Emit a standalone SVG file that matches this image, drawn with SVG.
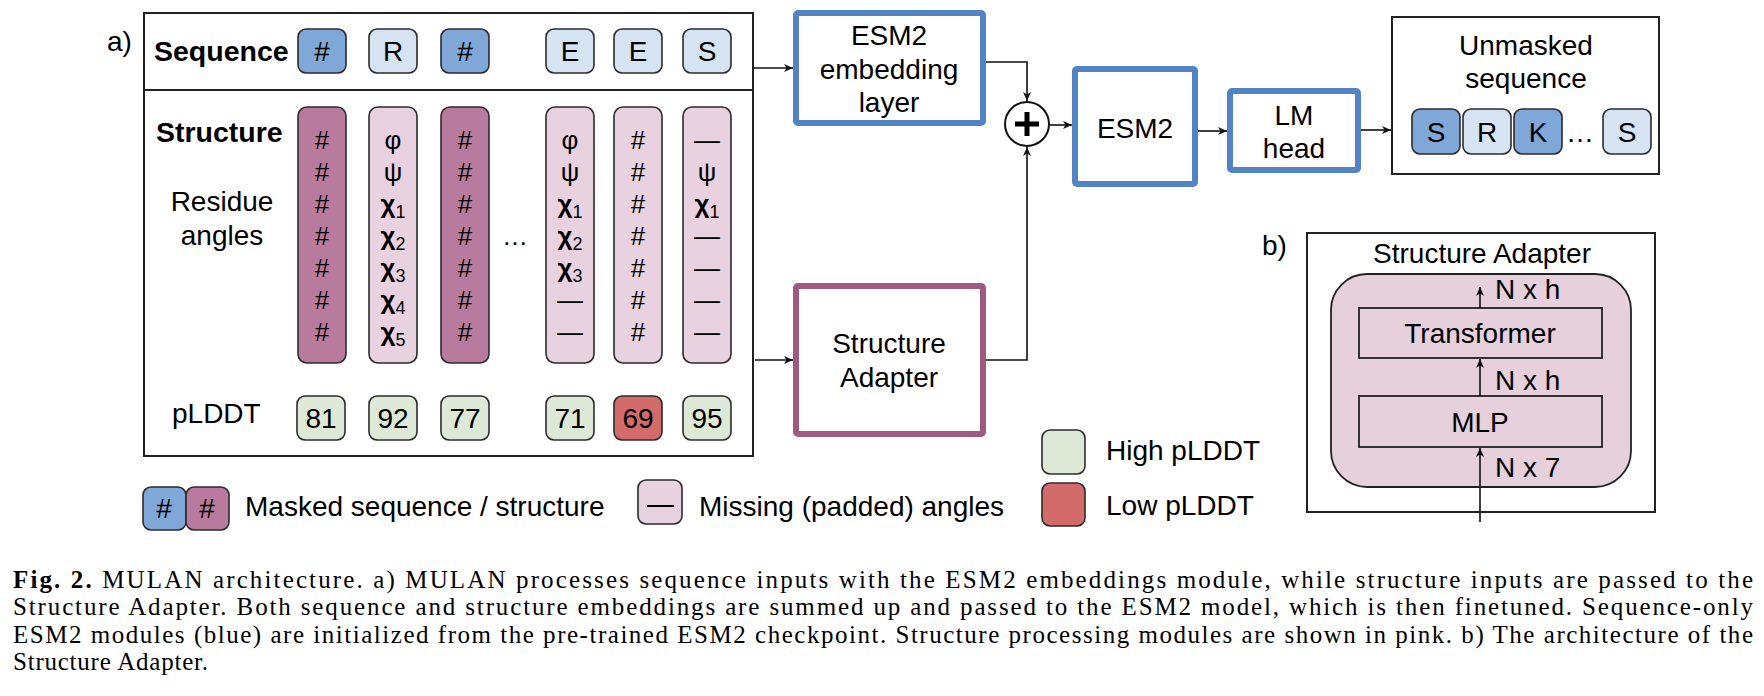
<svg xmlns="http://www.w3.org/2000/svg" width="1764" height="696" viewBox="0 0 1764 696">
<defs>
<style>
.t{font-family:"Liberation Sans",Arial,sans-serif;font-size:28px;fill:#000}
.tb{font-family:"Liberation Sans",Arial,sans-serif;font-size:28.5px;font-weight:bold;fill:#000}
.m{text-anchor:middle}
.g{font-family:"Liberation Sans",Arial,sans-serif;font-size:26px;fill:#000;text-anchor:middle}
.sub{font-size:18px;font-weight:normal}
.chi{font-weight:bold}
.tok{stroke:#2b2b2b;stroke-width:1.6}
.mb{fill:#7fa7d8}
.lb{fill:#d5e3f2}
.mp{fill:#b97b9d}
.lp{fill:#e8d2df}
.gr{fill:#dde9d6}
.rd{fill:#d36b6a}
.frame{fill:#fff;stroke:#222;stroke-width:2}
.bluebox{fill:#fff;stroke:#5283c4;stroke-width:6}
.pinkbox{fill:#fff;stroke:#a15a7f;stroke-width:6}
.conn{fill:none;stroke:#111;stroke-width:1.6}
.cap{font-family:"Liberation Serif","Times New Roman",serif;font-size:25px;fill:#000}
</style>
<marker id="ah" markerUnits="userSpaceOnUse" markerWidth="12" markerHeight="10" refX="9" refY="4" orient="auto">
<path d="M0,0 L9,4 L0,8 L2.5,4 z" fill="#111"/>
</marker>
</defs>

<g id="panel-a-frame">
<rect class="frame" x="144" y="13" width="609" height="443"/>
<line x1="144" y1="90" x2="753" y2="90" stroke="#222" stroke-width="2"/>
<text class="t" x="107" y="51" font-size="26">a)</text>
<text class="tb" x="154" y="61">Sequence</text>
<text class="tb" x="156" y="142">Structure</text>
<text class="t m" x="222" y="211">Residue</text>
<text class="t m" x="222" y="245">angles</text>
<text class="t" x="172" y="423">pLDDT</text>
<text class="g" x="515" y="245">…</text>
</g>

<g id="sequence-tokens">
<rect class="tok mb" x="298" y="29" width="48" height="44" rx="8"/><text class="t m" x="322" y="61">#</text>
<rect class="tok lb" x="369" y="29" width="48" height="44" rx="8"/><text class="t m" x="393" y="61">R</text>
<rect class="tok mb" x="441" y="29" width="48" height="44" rx="8"/><text class="t m" x="465" y="61">#</text>
<rect class="tok lb" x="546" y="29" width="48" height="44" rx="8"/><text class="t m" x="570" y="61">E</text>
<rect class="tok lb" x="614" y="29" width="48" height="44" rx="8"/><text class="t m" x="638" y="61">E</text>
<rect class="tok lb" x="683" y="29" width="48" height="44" rx="8"/><text class="t m" x="707" y="61">S</text>
</g>

<g id="structure-col-1">
<rect class="tok mp" x="298" y="107" width="48" height="256" rx="9"/>
<text class="g" x="322" y="149">#</text><text class="g" x="322" y="181">#</text><text class="g" x="322" y="213">#</text><text class="g" x="322" y="245">#</text><text class="g" x="322" y="277">#</text><text class="g" x="322" y="309">#</text><text class="g" x="322" y="341">#</text>
</g>
<g id="structure-col-2">
<rect class="tok lp" x="369" y="107" width="48" height="256" rx="9"/>
<text class="g" x="393" y="149">φ</text>
<text class="g" x="393" y="181">ψ</text>
<text class="g" x="393" y="213"><tspan class="chi">χ</tspan><tspan class="sub" dy="5">1</tspan></text>
<text class="g" x="393" y="245"><tspan class="chi">χ</tspan><tspan class="sub" dy="5">2</tspan></text>
<text class="g" x="393" y="277"><tspan class="chi">χ</tspan><tspan class="sub" dy="5">3</tspan></text>
<text class="g" x="393" y="309"><tspan class="chi">χ</tspan><tspan class="sub" dy="5">4</tspan></text>
<text class="g" x="393" y="341"><tspan class="chi">χ</tspan><tspan class="sub" dy="5">5</tspan></text>
</g>
<g id="structure-col-3">
<rect class="tok mp" x="441" y="107" width="48" height="256" rx="9"/>
<text class="g" x="465" y="149">#</text><text class="g" x="465" y="181">#</text><text class="g" x="465" y="213">#</text><text class="g" x="465" y="245">#</text><text class="g" x="465" y="277">#</text><text class="g" x="465" y="309">#</text><text class="g" x="465" y="341">#</text>
</g>
<g id="structure-col-4">
<rect class="tok lp" x="546" y="107" width="48" height="256" rx="9"/>
<text class="g" x="570" y="149">φ</text>
<text class="g" x="570" y="181">ψ</text>
<text class="g" x="570" y="213"><tspan class="chi">χ</tspan><tspan class="sub" dy="5">1</tspan></text>
<text class="g" x="570" y="245"><tspan class="chi">χ</tspan><tspan class="sub" dy="5">2</tspan></text>
<text class="g" x="570" y="277"><tspan class="chi">χ</tspan><tspan class="sub" dy="5">3</tspan></text>
<text class="g" x="570" y="309">—</text>
<text class="g" x="570" y="341">—</text>
</g>
<g id="structure-col-5">
<rect class="tok lp" x="614" y="107" width="48" height="256" rx="9"/>
<text class="g" x="638" y="149">#</text><text class="g" x="638" y="181">#</text><text class="g" x="638" y="213">#</text><text class="g" x="638" y="245">#</text><text class="g" x="638" y="277">#</text><text class="g" x="638" y="309">#</text><text class="g" x="638" y="341">#</text>
</g>
<g id="structure-col-6">
<rect class="tok lp" x="683" y="107" width="48" height="256" rx="9"/>
<text class="g" x="707" y="149">—</text>
<text class="g" x="707" y="181">ψ</text>
<text class="g" x="707" y="213"><tspan class="chi">χ</tspan><tspan class="sub" dy="5">1</tspan></text>
<text class="g" x="707" y="245">—</text>
<text class="g" x="707" y="277">—</text>
<text class="g" x="707" y="309">—</text>
<text class="g" x="707" y="341">—</text>
</g>

<g id="plddt-tokens">
<rect class="tok gr" x="297" y="396" width="48" height="44" rx="8"/><text class="t m" x="321" y="428">81</text>
<rect class="tok gr" x="369" y="396" width="48" height="44" rx="8"/><text class="t m" x="393" y="428">92</text>
<rect class="tok gr" x="441" y="396" width="48" height="44" rx="8"/><text class="t m" x="465" y="428">77</text>
<rect class="tok gr" x="546" y="396" width="48" height="44" rx="8"/><text class="t m" x="570" y="428">71</text>
<rect class="tok rd" x="614" y="396" width="48" height="44" rx="8"/><text class="t m" x="638" y="428">69</text>
<rect class="tok gr" x="683" y="396" width="48" height="44" rx="8"/><text class="t m" x="707" y="428">95</text>
</g>

<g id="esm2-embedding">
<rect class="bluebox" x="796" y="13" width="187" height="110" rx="2"/>
<text class="t m" x="889" y="45">ESM2</text>
<text class="t m" x="889" y="79">embedding</text>
<text class="t m" x="889" y="112">layer</text>
</g>

<g id="structure-adapter">
<rect class="pinkbox" x="796" y="286" width="187" height="148" rx="2"/>
<text class="t m" x="889" y="353">Structure</text>
<text class="t m" x="889" y="387">Adapter</text>
</g>

<g id="sum">
<circle cx="1027" cy="124" r="22" fill="#fff" stroke="#111" stroke-width="2"/>
<line x1="1015" y1="124" x2="1039" y2="124" stroke="#000" stroke-width="5"/>
<line x1="1027" y1="112" x2="1027" y2="136" stroke="#000" stroke-width="5"/>
</g>

<g id="esm2">
<rect class="bluebox" x="1075" y="69" width="120" height="115" rx="2"/>
<text class="t m" x="1135" y="138">ESM2</text>
</g>

<g id="lm-head">
<rect class="bluebox" x="1230" y="91" width="128" height="79" rx="2"/>
<text class="t m" x="1294" y="125">LM</text>
<text class="t m" x="1294" y="158">head</text>
</g>

<g id="unmasked-sequence">
<rect class="frame" x="1392" y="17" width="267" height="157"/>
<text class="t m" x="1526" y="55">Unmasked</text>
<text class="t m" x="1526" y="88">sequence</text>
<rect class="tok mb" x="1412" y="109" width="48" height="45" rx="8"/><text class="t m" x="1436" y="142">S</text>
<rect class="tok lb" x="1463" y="109" width="48" height="45" rx="8"/><text class="t m" x="1487" y="142">R</text>
<rect class="tok mb" x="1514" y="109" width="48" height="45" rx="8"/><text class="t m" x="1538" y="142">K</text>
<text class="t m" x="1580" y="142">…</text>
<rect class="tok lb" x="1603" y="109" width="48" height="45" rx="8"/><text class="t m" x="1627" y="142">S</text>
</g>

<g id="legend">
<rect class="tok mb" x="143" y="487" width="43" height="43" rx="8"/><text class="t m" x="164" y="518">#</text>
<rect class="tok mp" x="186" y="487" width="43" height="43" rx="8"/><text class="t m" x="207" y="518">#</text>
<text class="t" x="245" y="516">Masked sequence / structure</text>
<rect class="tok lp" x="638" y="480" width="44" height="44" rx="8"/>
<line x1="647" y1="506" x2="674" y2="506" stroke="#000" stroke-width="2"/>
<text class="t" x="699" y="516">Missing (padded) angles</text>
<rect class="tok gr" x="1042" y="430" width="43" height="44" rx="8"/>
<text class="t" x="1106" y="460">High pLDDT</text>
<rect class="tok rd" x="1042" y="483" width="43" height="43" rx="8"/>
<text class="t" x="1106" y="515">Low pLDDT</text>
</g>

<g id="panel-b">
<text class="t" x="1262" y="255" font-size="26">b)</text>
<rect class="frame" x="1307" y="233" width="348" height="279"/>
<text class="t m" x="1482" y="263">Structure Adapter</text>
<rect x="1331" y="274" width="300" height="213" rx="36" fill="#e5d0dc" stroke="#222" stroke-width="1.8"/>
<g id="transformer">
<rect x="1359" y="308" width="243" height="50" fill="#e5d0dc" stroke="#222" stroke-width="1.8"/>
<text class="t m" x="1480" y="343">Transformer</text>
</g>
<g id="mlp">
<rect x="1359" y="396" width="243" height="51" fill="#e5d0dc" stroke="#222" stroke-width="1.8"/>
<text class="t m" x="1480" y="432">MLP</text>
</g>
<text class="t" x="1495" y="299">N x h</text>
<text class="t" x="1495" y="390">N x h</text>
<text class="t" x="1495" y="477">N x 7</text>
</g>

<g id="connectors">
<line class="conn" x1="753" y1="68" x2="793" y2="68" marker-end="url(#ah)"/>
<line class="conn" x1="755" y1="360" x2="793" y2="360" marker-end="url(#ah)"/>
<polyline class="conn" points="986,62 1027,62 1027,101" marker-end="url(#ah)"/>
<polyline class="conn" points="986,360 1027,360 1027,147" marker-end="url(#ah)"/>
<line class="conn" x1="1049" y1="125" x2="1072" y2="125" marker-end="url(#ah)"/>
<line class="conn" x1="1198" y1="131" x2="1227" y2="131" marker-end="url(#ah)"/>
<line class="conn" x1="1361" y1="130" x2="1391" y2="130" marker-end="url(#ah)"/>
<line class="conn" x1="1480" y1="522" x2="1480" y2="448" marker-end="url(#ah)"/>
<line class="conn" x1="1480" y1="396" x2="1480" y2="359" marker-end="url(#ah)"/>
<line class="conn" x1="1480" y1="308" x2="1480" y2="287" marker-end="url(#ah)"/>
</g>

<g id="caption">
<text class="cap" x="13" y="588" textLength="1740" lengthAdjust="spacing"><tspan font-weight="bold">Fig. 2.</tspan> MULAN architecture. a) MULAN processes sequence inputs with the ESM2 embeddings module, while structure inputs are passed to the</text>
<text class="cap" x="13" y="615" textLength="1740" lengthAdjust="spacing">Structure Adapter. Both sequence and structure embeddings are summed up and passed to the ESM2 model, which is then finetuned. Sequence-only</text>
<text class="cap" x="13" y="643" textLength="1740" lengthAdjust="spacing">ESM2 modules (blue) are initialized from the pre-trained ESM2 checkpoint. Structure processing modules are shown in pink. b) The architecture of the</text>
<text class="cap" x="13" y="670" textLength="195" lengthAdjust="spacing">Structure Adapter.</text>
</g>
</svg>
